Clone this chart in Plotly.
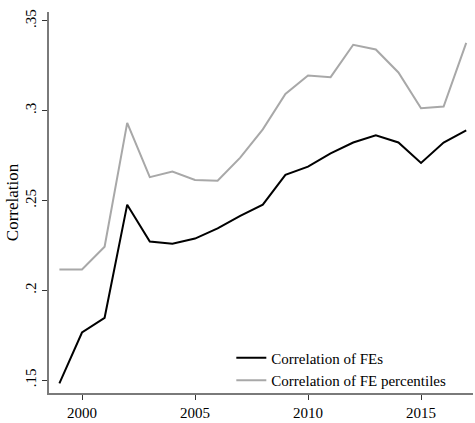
import plotly.graph_objects as go

years = list(range(1999, 2018))
corr_fe = [0.1482, 0.1765, 0.1847, 0.2477, 0.2272, 0.2259, 0.2288, 0.2345, 0.2415,
           0.2477, 0.2643, 0.2689, 0.2762, 0.2823, 0.2863, 0.2823, 0.2709, 0.2823, 0.2891]
corr_pct = [0.2116, 0.2116, 0.2243, 0.2932, 0.2630, 0.2661, 0.2614, 0.2610, 0.2739,
            0.2896, 0.3093, 0.3196, 0.3187, 0.3367, 0.3341, 0.3213, 0.3014, 0.3023, 0.3378]
y_tickvals = [0.15, 0.2, 0.25, 0.3, 0.35]
y_ticktext = [".15", ".2", ".25", ".3", ".35"]
x_tickvals = [2000, 2005, 2010, 2015]

font = "Liberation Serif, Times New Roman, serif"

fig = go.Figure()
fig.add_trace(go.Scatter(x=years, y=corr_fe, mode="lines", name="Correlation of FEs",
                         line=dict(color="black", width=2)))
fig.add_trace(go.Scatter(x=years, y=corr_pct, mode="lines", name="Correlation of FE percentiles",
                         line=dict(color="#a8a8a8", width=2)))

fig.update_layout(
    width=475, height=423,
    margin=dict(l=49, r=2, t=12, b=26),
    paper_bgcolor="white", plot_bgcolor="white",
    font=dict(family=font, size=15, color="black"),
    showlegend=True,
    legend=dict(x=0.43, y=0.135, xanchor="left", yanchor="top",
                bgcolor="rgba(0,0,0,0)", font=dict(size=15), tracegroupgap=0),
)
fig.update_xaxes(range=[1998.54, 2017.3], tickvals=x_tickvals, showgrid=False, zeroline=False,
                 showline=True, linecolor="#7a7a7a", linewidth=1.5,
                 ticks="outside", ticklen=5, tickcolor="#333333", tickfont=dict(size=15))
fig.update_yaxes(range=[0.14283, 0.35496], tickvals=y_tickvals, ticktext=y_ticktext,
                 tickangle=-90, showgrid=False, zeroline=False,
                 showline=True, linecolor="#7a7a7a", linewidth=1.5,
                 ticks="outside", ticklen=5, tickcolor="#333333", tickfont=dict(size=15),
                 title=dict(text="Correlation", font=dict(size=17), standoff=0))

fig.write_html("out.html", config={"displayModeBar": False},
               post_script="document.body.style.margin='0px';document.body.style.overflow='hidden';")
